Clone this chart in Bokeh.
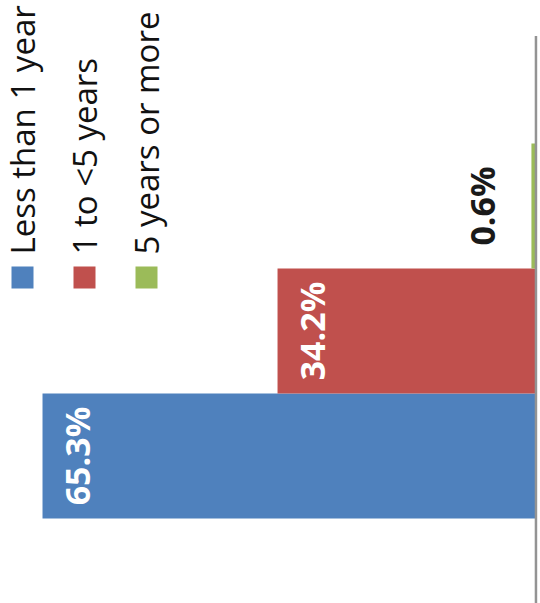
import math
from bokeh.plotting import figure
from bokeh.models import Range1d, ColumnDataSource, Label, BoxAnnotation
from bokeh.core.properties import value
from bokeh.embed import file_html
from bokeh.resources import INLINE

# Data
series = ["Less than 1 year", "1 to <5 years", "5 years or more"]
values = [65.3, 34.2, 0.6]
colors = ["#4F81BD", "#C0504D", "#9BBB59"]
labels = ["65.3%", "34.2%", "0.6%"]

W, H = 540, 603
p = figure(width=W, height=H, output_backend="svg", toolbar_location=None,
           x_range=Range1d(70.86, -0.6), y_range=Range1d(-1.18, 3.644),
           min_border=0, min_border_left=0, min_border_right=0,
           min_border_top=0, min_border_bottom=0)
p.axis.visible = False
p.grid.visible = False
p.outline_line_color = None
p.background_fill_color = "white"
p.border_fill_color = "white"

idx = list(range(len(series)))
src = ColumnDataSource(dict(
    y=idx, v=values, c=colors, lab=labels,
    tc=["white" if v > 5 else "#1a1a1a" for v in values],
    xo=[34 if v > 5 else -49 for v in values],
))

p.hbar(y="y", left=0, right="v", height=1.0, fill_color="c", line_color=None, source=src)

# category axis line (baseline)
p.segment(x0=0, x1=0, y0=-1.3, y1=3.36, line_color="#939393", line_width=2.5)

p.text(x="v", y="y", text="lab", angle=math.pi / 2, x_offset="xo",
       text_align="center", text_baseline="middle", text_color="tc",
       text_font=value("Open Sans"), text_font_style="bold",
       text_font_size="34px", source=src)

# rotated legend
for i, (name, col) in enumerate(zip(series, colors)):
    cx = 22 + 62 * i
    p.add_layout(BoxAnnotation(left=cx - 11, right=cx + 11, bottom=H - 288, top=H - 266,
                               left_units="screen", right_units="screen",
                               bottom_units="screen", top_units="screen",
                               fill_color=col, fill_alpha=1.0, line_color=None))
    p.add_layout(Label(x=cx, y=H - 254, x_units="screen", y_units="screen",
                       text=name, angle=math.pi / 2, text_align="left",
                       text_baseline="middle", text_color="#111111",
                       text_font="Open Sans", text_font_size="33px"))

open("out.html", "w").write(file_html(p, INLINE))
